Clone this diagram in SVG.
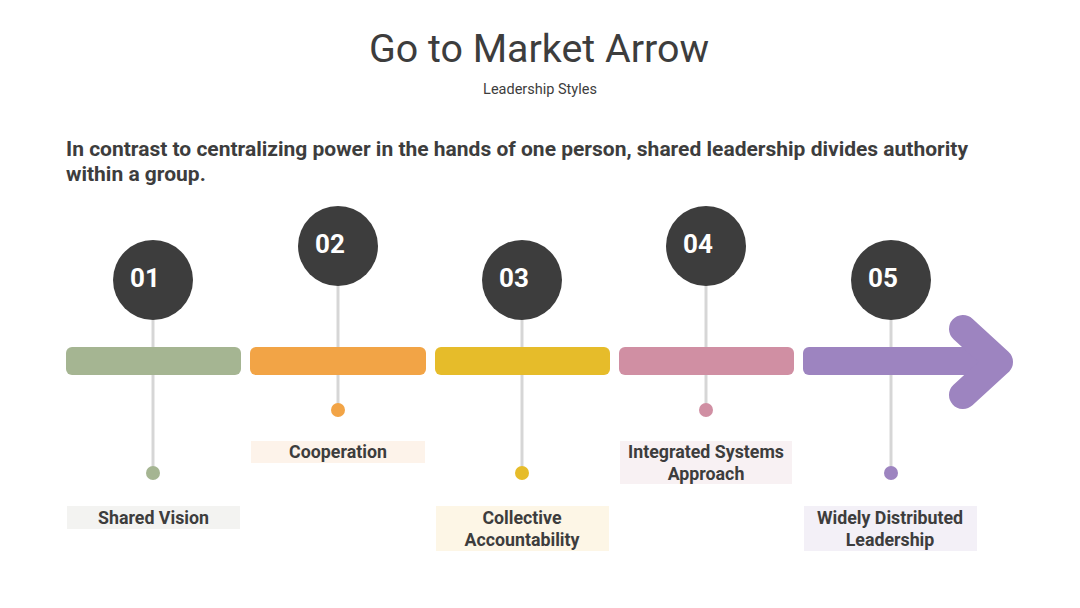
<svg xmlns="http://www.w3.org/2000/svg" width="1080" height="608" viewBox="0 0 1080 608">
<style>
  .title{font-family:Roboto,"Liberation Sans",sans-serif;font-size:39.4px;fill:#3d3d3d;text-anchor:middle}
  .sub{font-family:Roboto,"Liberation Sans",sans-serif;font-size:14.5px;fill:#3d3d3d;text-anchor:middle}
  .head{font-family:Roboto,"Liberation Sans",sans-serif;font-size:21px;font-weight:bold;fill:#3d3d3d}
  .num{font-family:Roboto,"Liberation Sans",sans-serif;font-size:26px;font-weight:bold;fill:#ffffff;text-anchor:middle}
  .lbl{font-family:Roboto,"Liberation Sans",sans-serif;font-size:17.8px;font-weight:bold;fill:#3d3d3d;text-anchor:middle}
  .stem{stroke:#d6d6d6;stroke-width:3;fill:none}
  .circ{fill:#3d3d3d}
</style>
<rect width="1080" height="608" fill="#ffffff"/>
<text class="title" x="539" y="62">Go to Market Arrow</text>
<text class="sub" x="540" y="94">Leadership Styles</text>
<text class="head" x="66" y="156">In contrast to centralizing power in the hands of one person, shared leadership divides authority</text>
<text class="head" x="66" y="181">within a group.</text>

<g id="connectors">
  <line class="stem" x1="153" y1="300" x2="153" y2="473"/>
  <line class="stem" x1="338" y1="266" x2="338" y2="410"/>
  <line class="stem" x1="522" y1="300" x2="522" y2="473"/>
  <line class="stem" x1="706" y1="266" x2="706" y2="410"/>
  <line class="stem" x1="891" y1="300" x2="891" y2="473"/>
</g>

<g id="bar1"><rect x="66" y="347" width="175" height="28" rx="6" fill="#a5b592"/></g>
<g id="bar2"><rect x="250" y="347" width="176" height="28" rx="6" fill="#f2a446"/></g>
<g id="bar3"><rect x="435" y="347" width="175" height="28" rx="6" fill="#e6bc2a"/></g>
<g id="bar4"><rect x="619" y="347" width="175" height="28" rx="6" fill="#d08fa3"/></g>
<g id="bar5">
  <rect x="803" y="347" width="190" height="28" rx="6" fill="#9d84c0"/>
  <polyline points="963,329 999,362 963,395" fill="none" stroke="#9d84c0" stroke-width="28" stroke-linecap="round" stroke-linejoin="round"/>
</g>

<g id="node1">
  <circle class="circ" cx="153" cy="280" r="40"/>
  <text class="num" x="145" y="287">01</text>
  <circle cx="153" cy="473" r="7" fill="#a5b592"/>
  <rect x="67" y="506" width="173" height="23" fill="#f3f3f1"/>
  <text class="lbl" x="153.5" y="524">Shared Vision</text>
</g>
<g id="node2">
  <circle class="circ" cx="338" cy="246" r="40"/>
  <text class="num" x="330" y="253">02</text>
  <circle cx="338" cy="410" r="7" fill="#f2a446"/>
  <rect x="251" y="441" width="174" height="22" fill="#fdf3ea"/>
  <text class="lbl" x="338" y="458">Cooperation</text>
</g>
<g id="node3">
  <circle class="circ" cx="522" cy="280" r="40"/>
  <text class="num" x="514" y="287">03</text>
  <circle cx="522" cy="473" r="7" fill="#e6bc2a"/>
  <rect x="436" y="506" width="173" height="45" fill="#fdf6e6"/>
  <text class="lbl" x="522" y="524">Collective</text>
  <text class="lbl" x="522" y="546">Accountability</text>
</g>
<g id="node4">
  <circle class="circ" cx="706" cy="246" r="40"/>
  <text class="num" x="698" y="253">04</text>
  <circle cx="706" cy="410" r="7" fill="#d08fa3"/>
  <rect x="620" y="441" width="172" height="43" fill="#f8f1f3"/>
  <text class="lbl" x="706" y="458">Integrated Systems</text>
  <text class="lbl" x="706" y="480">Approach</text>
</g>
<g id="node5">
  <circle class="circ" cx="891" cy="280" r="40"/>
  <text class="num" x="883" y="287">05</text>
  <circle cx="891" cy="473" r="7" fill="#9d84c0"/>
  <rect x="804" y="506" width="173" height="45" fill="#f3f0f7"/>
  <text class="lbl" x="890" y="524">Widely Distributed</text>
  <text class="lbl" x="890" y="546">Leadership</text>
</g>
</svg>
